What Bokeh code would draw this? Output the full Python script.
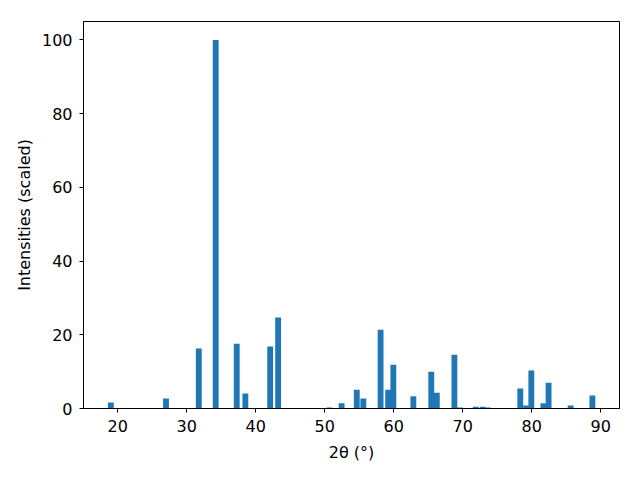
from bokeh.plotting import figure
from bokeh.models import Range1d, FixedTicker
from bokeh.embed import file_html
from bokeh.resources import INLINE

two_theta = [19.0, 27.0, 31.75, 34.2, 37.25, 38.5, 42.1, 43.25, 50.7, 52.45,
             54.65, 55.6, 58.1, 59.2, 59.95, 62.85, 65.45, 66.25, 68.8, 69.6,
             71.9, 72.9, 73.6, 78.35, 79.2, 79.95, 81.7, 82.45, 85.65, 88.8]
intensity = [1.6, 2.7, 16.3, 100.0, 17.6, 4.1, 16.8, 24.7, 0.3, 1.4,
             5.1, 2.7, 21.4, 5.1, 11.9, 3.3, 10.0, 4.3, 14.6, 0.3,
             0.5, 0.5, 0.3, 5.4, 0.8, 10.3, 1.4, 7.0, 0.8, 3.5]
x_ticks = [20, 30, 40, 50, 60, 70, 80, 90]
y_ticks = [0, 20, 40, 60, 80, 100]

p = figure(width=624, height=464, output_backend="svg", toolbar_location=None,
           x_range=Range1d(15.04, 92.73), y_range=Range1d(0, 105))
p.min_border_left = 83
p.min_border_right = 5
p.min_border_top = 21
p.min_border_bottom = 55

p.vbar(x=two_theta, top=intensity, width=0.85, bottom=0,
       fill_color="#1f77b4", line_color=None)

p.grid.visible = False
p.outline_line_color = "black"
p.outline_line_width = 1
p.outline_line_alpha = 1.0

p.xaxis.ticker = FixedTicker(ticks=x_ticks)
p.yaxis.ticker = FixedTicker(ticks=y_ticks)
p.xaxis.axis_label = "2θ (°)"
p.yaxis.axis_label = "Intensities (scaled)"

for ax in (p.xaxis, p.yaxis):
    ax.axis_line_color = "black"
    ax.major_tick_line_color = "black"
    ax.minor_tick_line_color = None
    ax.major_tick_in = 0
    ax.major_tick_out = 4
    ax.major_label_text_font = "DejaVu Sans"
    ax.major_label_text_font_size = "12pt"
    ax.major_label_text_color = "black"
    ax.axis_label_text_font = "DejaVu Sans"
    ax.axis_label_text_font_size = "12pt"
    ax.axis_label_text_font_style = "normal"
    ax.axis_label_text_color = "black"

p.xaxis.major_label_standoff = 7
p.yaxis.major_label_standoff = 7
p.xaxis.axis_label_standoff = 8
p.yaxis.axis_label_standoff = 5

open("out.html", "w").write(file_html(p, INLINE))
